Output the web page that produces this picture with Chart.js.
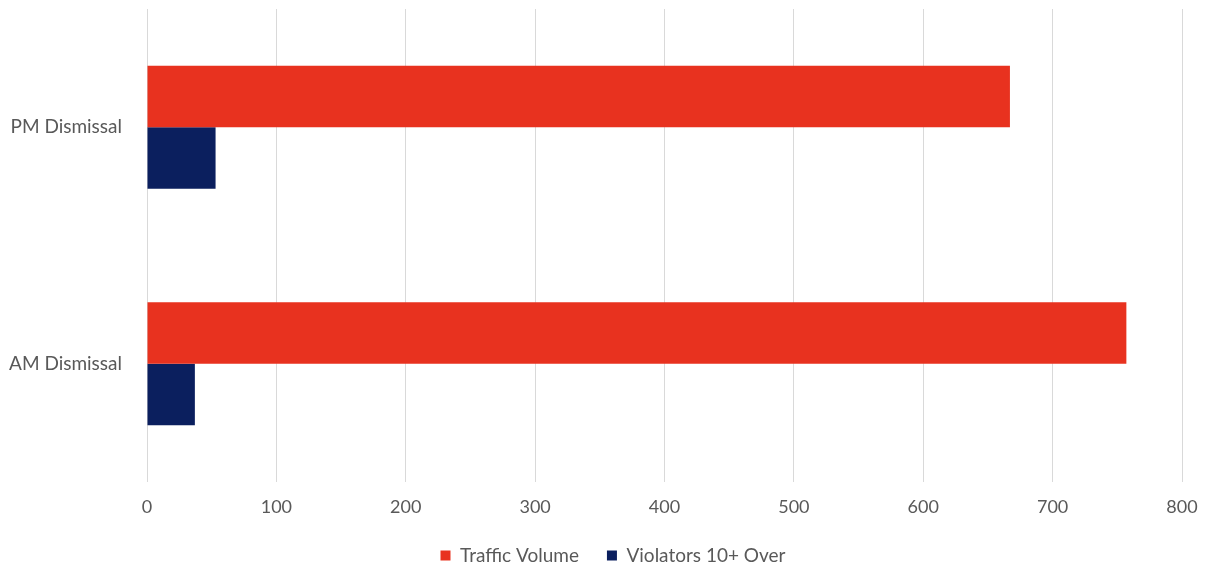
<!DOCTYPE html>
<html>
<head>
<meta charset="utf-8">
<script src="https://cdn.jsdelivr.net/npm/chart.js@4"></script>
<style>
  html, body { margin: 0; padding: 0; background: #fff; }
  #wrap { width: 1213px; height: 568px; position: relative; }
</style>
</head>
<body>
<div id="wrap"><canvas id="canvas"></canvas></div>
<script>
// periods and counts
var periods = ['PM Dismissal', 'AM Dismissal'];
var trafficVolume = [667, 757];
var violators = [53, 37];
var xTicks = [0, 100, 200, 300, 400, 500, 600, 700, 800];

var textColor = '#595959';
var fontFamily = 'Lato, "Open Sans", sans-serif';

var data = {
    labels: periods,
    datasets: [
        {label: 'Traffic Volume', data: trafficVolume, backgroundColor: '#E8321F'},
        {label: 'Violators 10+ Over', data: violators, backgroundColor: '#0B1F5E'}
    ]
};

// nudge the legend a little to the right after layout
var legendShift = {
    id: 'legendShift',
    afterLayout: function(chart) {
        if (chart.legend) {
            chart.legend.left += 22;
            chart.legend.right += 22;
        }
    }
};

var myBar = new Chart(document.getElementById('canvas').getContext('2d'), {
    type: 'bar',
    data: data,
    plugins: [legendShift],
    options: {
        indexAxis: 'y',
        responsive: true,
        maintainAspectRatio: false,
        animation: false,
        layout: {padding: {top: 9, right: 31, left: 0, bottom: 0}},
        datasets: {bar: {categoryPercentage: 0.52, barPercentage: 1}},
        scales: {
            x: {
                min: xTicks[0],
                max: xTicks[xTicks.length - 1],
                afterBuildTicks: function(scale) {
                    scale.ticks = xTicks.map(function(v) { return {value: v}; });
                },
                grid: {color: '#d9d9d9', lineWidth: 1, drawTicks: false},
                border: {display: false},
                ticks: {color: textColor, padding: 14, font: {family: fontFamily, size: 18}},
                afterFit: function(scale) {
                    scale.height = 36;
                    scale.paddingLeft = 0;
                    scale.paddingRight = 0;
                }
            },
            y: {
                grid: {display: false},
                border: {display: false},
                ticks: {color: textColor, padding: 17, font: {family: fontFamily, size: 19}},
                afterFit: function(scale) {
                    scale.width = 147;
                    scale.paddingTop = 0;
                    scale.paddingBottom = 0;
                }
            }
        },
        plugins: {
            tooltip: {enabled: false},
            legend: {
                position: 'bottom',
                maxHeight: 50,
                labels: {
                    color: textColor,
                    boxWidth: 10,
                    boxHeight: 10,
                    padding: 28,
                    font: {family: fontFamily, size: 19}
                }
            }
        }
    }
});
</script>
</body>
</html>
